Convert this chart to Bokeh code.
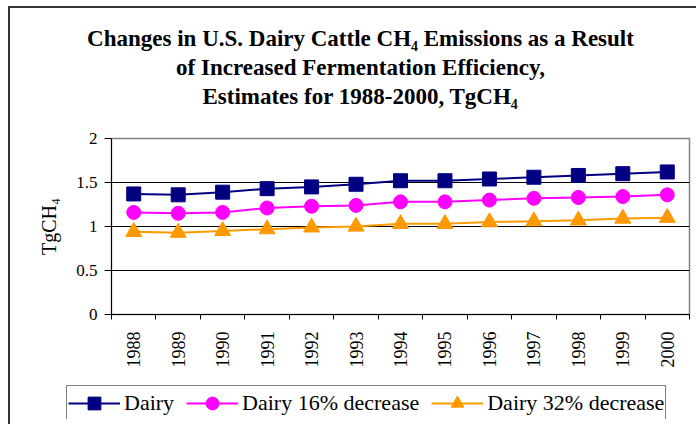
import math
from bokeh.plotting import figure
from bokeh.models import (FixedTicker, NumeralTickFormatter, Legend, LegendItem,
                          Label, Range1d)
from bokeh.embed import file_html
from bokeh.resources import INLINE

years = [1988, 1989, 1990, 1991, 1992, 1993, 1994, 1995, 1996, 1997, 1998, 1999, 2000]
dairy = [1.37, 1.36, 1.39, 1.43, 1.45, 1.48, 1.52, 1.52, 1.54, 1.56, 1.58, 1.60, 1.62]
dairy16 = [1.16, 1.15, 1.16, 1.21, 1.23, 1.24, 1.28, 1.28, 1.30, 1.32, 1.33, 1.34, 1.36]
dairy32 = [0.94, 0.93, 0.95, 0.97, 0.99, 1.00, 1.03, 1.03, 1.05, 1.06, 1.07, 1.09, 1.10]
y_ticks = [0, 0.5, 1, 1.5, 2]
title_lines = ["Changes in U.S. Dairy Cattle CH\u2084 Emissions as a Result",
               "of Increased Fermentation Efficiency,",
               "Estimates for 1988-2000, TgCH\u2084"]
series_names = ["Dairy", "Dairy 16% decrease", "Dairy 32% decrease"]

FONT = "Liberation Serif"
colors = ["#000080", "#FF00FF", "#FF9900"]
markers = ["square", "circle", "triangle"]
sizes = [14, 14, 16]
BORDER = "2px solid #333333"
W = 688

# ---------- title strip ----------
tf = figure(width=W, height=122, output_backend="svg", toolbar_location=None,
            x_range=Range1d(0, W), y_range=Range1d(122, 0),
            x_axis_type=None, y_axis_type=None,
            min_border_left=0, min_border_right=0, min_border_top=0, min_border_bottom=0)
tf.outline_line_color = None
tf.grid.visible = False
tf.background_fill_color = "white"
tf.border_fill_color = "white"
for txt, yb in zip(title_lines, [30, 59, 88]):
    tf.add_layout(Label(x=350, y=yb, text=txt, text_align="center",
                        text_baseline="alphabetic", text_font=FONT,
                        text_font_style="bold", text_font_size="23px",
                        text_color="black"))
tf.styles = {"margin-left": "8px", "margin-top": "6px",
             "border-left": BORDER, "border-top": BORDER}

# ---------- main chart ----------
p = figure(width=W, height=250, output_backend="svg", toolbar_location=None,
           x_range=Range1d(years[0] - 0.5, years[-1] + 0.5),
           y_range=Range1d(0, 2),
           min_border_left=101, min_border_right=9, min_border_top=10,
           min_border_bottom=64)
p.background_fill_color = "white"
p.border_fill_color = "white"
p.outline_line_color = "#808080"
p.outline_line_width = 1.5

xa = p.xaxis[0]
xa.ticker = FixedTicker(ticks=years, minor_ticks=[y - 0.5 for y in years] + [years[-1] + 0.5])
xa.major_tick_line_color = None
xa.major_tick_out = 0
xa.major_tick_in = 0
xa.minor_tick_out = 5
xa.minor_tick_in = 0
xa.minor_tick_line_color = "black"
xa.major_label_orientation = math.pi / 2
xa.major_label_standoff = 12
xa.major_label_text_font = FONT
xa.major_label_text_font_size = "18px"
xa.major_label_text_color = "black"
xa.axis_line_color = "black"

ya = p.yaxis[0]
ya.ticker = FixedTicker(ticks=y_ticks, minor_ticks=[])
ya.formatter = NumeralTickFormatter(format="0.[0]")
ya.major_tick_out = 7
ya.major_tick_in = 0
ya.major_tick_line_color = "black"
ya.major_label_standoff = 7
ya.major_label_text_font = FONT
ya.major_label_text_font_size = "17px"
ya.major_label_text_color = "black"
ya.axis_line_color = "black"
ya.axis_label = "TgCH\u2084"
ya.axis_label_text_font = FONT
ya.axis_label_text_font_style = "normal"
ya.axis_label_text_font_size = "20px"
ya.axis_label_text_color = "black"
ya.axis_label_standoff = 13

p.xgrid.visible = False
p.ygrid.ticker = FixedTicker(ticks=y_ticks)
p.ygrid.grid_line_color = "black"
p.ygrid.grid_line_width = 1

for vals, c, m, s in zip([dairy, dairy16, dairy32], colors, markers, sizes):
    p.line(years, vals, line_color=c, line_width=2)
    p.scatter(years, vals, marker=m, size=s, fill_color=c, line_color=c)
p.styles = {"margin-left": "8px", "border-left": BORDER}

# ---------- legend strip ----------
lg = figure(width=W, height=46, output_backend="svg", toolbar_location=None,
            x_range=Range1d(years[0] - 0.5, years[-1] + 0.5), y_range=Range1d(10, 11),
            x_axis_type=None, y_axis_type=None,
            min_border_left=56, min_border_right=27, min_border_top=7,
            min_border_bottom=5)
lg.outline_line_color = None
lg.grid.visible = False
lg.background_fill_color = "white"
lg.border_fill_color = "white"
items = []
for vals, name, c, m, s in zip([dairy, dairy16, dairy32], series_names, colors, markers, sizes):
    r1 = lg.line(years, vals, line_color=c, line_width=2)
    r2 = lg.scatter(years, vals, marker=m, size=s, fill_color=c, line_color=c)
    items.append(LegendItem(label=name, renderers=[r1, r2]))

legend = Legend(items=items, orientation="horizontal", location="top_left",
                label_text_font=FONT, label_text_font_size="22px",
                label_text_color="black",
                glyph_width=52, glyph_height=32, label_height=20,
                label_standoff=4, spacing=12, padding=1, margin=0,
                border_line_color="black", border_line_width=1,
                background_fill_color="white", background_fill_alpha=1)
lg.add_layout(legend)
lg.styles = {"margin-left": "8px", "border-left": BORDER}

open("out.html", "w").write(file_html([tf, p, lg], INLINE))
